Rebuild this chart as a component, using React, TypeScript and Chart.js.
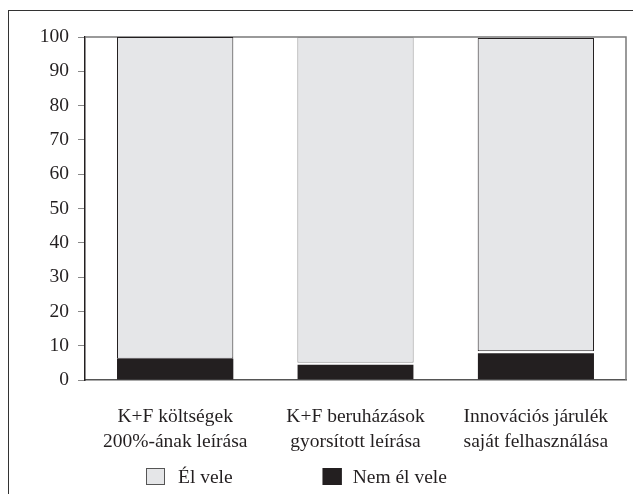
import React, { useEffect, useRef } from "react";
import { Chart, registerables } from "chart.js";

Chart.register(...registerables);

const categories: string[][] = [
  ["K+F költségek", "200%-ának leírása"],
  ["K+F beruházások", "gyorsított leírása"],
  ["Innovációs járulék", "saját felhasználása"],
];
const nemElVele: number[] = [6.2, 5.0, 8.4];
const elVele: number[] = [93.8, 95.0, 91.3];
const yTicks: number[] = [0, 10, 20, 30, 40, 50, 60, 70, 80, 90, 100];
const seriesLabels = { el: "Él vele", nem: "Nem él vele" };

const FONT = "'Liberation Serif', 'Times New Roman', serif";
const TEXT = "#231f20";
const FS = 19.5;

const frameAndLegend = {
  id: "frameAndLegend",
  beforeDatasetsDraw(chart: any) {
    const { ctx, chartArea } = chart;
    ctx.save();
    ctx.strokeStyle = "#7a7a7a";
    ctx.lineWidth = 1.5;
    ctx.beginPath();
    ctx.moveTo(chartArea.left, chartArea.top);
    ctx.lineTo(chartArea.right, chartArea.top);
    ctx.lineTo(chartArea.right, chartArea.bottom);
    ctx.stroke();
    ctx.restore();
  },
  afterDraw(chart: any) {
    const { ctx, chartArea } = chart;
    const ds = chart.data.datasets;
    const items = [ds[1], ds[0]];
    const y = chartArea.bottom + 88;
    let x = chartArea.left + 61;
    ctx.save();
    ctx.font = `${FS}px ${FONT}`;
    ctx.textBaseline = "alphabetic";
    items.forEach((d: any, i: number) => {
      const fill = Array.isArray(d.backgroundColor) ? d.backgroundColor[0] : d.backgroundColor;
      ctx.fillStyle = fill;
      ctx.fillRect(x, y, 19, 17);
      ctx.strokeStyle = i === 0 ? "#555" : TEXT;
      ctx.lineWidth = 1;
      ctx.strokeRect(x + 0.5, y + 0.5, 18, 16);
      ctx.fillStyle = TEXT;
      ctx.fillText(d.label, x + (i === 0 ? 32 : 30), y + 15);
      const w = ctx.measureText(d.label).width;
      x += 32 + w + 90;
    });
    ctx.restore();
  },
};

export default function App() {
  const ref = useRef<HTMLCanvasElement | null>(null);
  useEffect(() => {
    document.body.style.overflow = "hidden";
    if (!ref.current) return;
    const chart = new Chart(ref.current, {
      type: "bar",
      data: {
        labels: categories,
        datasets: [
          {
            label: seriesLabels.nem,
            data: nemElVele,
            backgroundColor: "#231f20",
            borderColor: "#ffffff",
            borderWidth: [
              { top: 0, left: 0, right: 0, bottom: 0 },
              { top: 2, left: 0, right: 0, bottom: 0 },
              { top: 2, left: 0, right: 0, bottom: 0 },
            ] as any,
            borderSkipped: false,
            barPercentage: 0.645,
            categoryPercentage: 1,
          },
          {
            label: seriesLabels.el,
            data: elVele,
            backgroundColor: "#e5e6e8",
            borderColor: ["#231f20", "#8a8a8a", "#231f20"],
            borderWidth: 1,
            borderSkipped: false,
            barPercentage: 0.645,
            categoryPercentage: 1,
          },
        ],
      },
      options: {
        animation: false,
        responsive: true,
        maintainAspectRatio: false,
        layout: { padding: { left: 0, right: 15, top: 26, bottom: 30 } },
        plugins: {
          legend: { display: false },
          tooltip: { enabled: false },
        },
        scales: {
          x: {
            stacked: true,
            offset: true,
            grid: { display: false, drawTicks: false },
            border: { display: true, color: "#555", width: 1.5 },
            ticks: {
              color: TEXT,
              font: { family: FONT, size: FS, lineHeight: 1.25 },
              padding: 25,
            },
            afterFit(scale: any) {
              scale.height = 86;
            },
          },
          y: {
            stacked: true,
            min: 0,
            max: 100,
            afterBuildTicks(scale: any) {
              scale.ticks = yTicks.map((v) => ({ value: v }));
            },
            grid: {
              display: true,
              drawOnChartArea: false,
              drawTicks: true,
              tickLength: 7,
              color: "#888",
            },
            border: { display: true, color: "#231f20", width: 1.5 },
            ticks: {
              color: TEXT,
              font: { family: FONT, size: FS },
              padding: 9,
            },
            afterFit(scale: any) {
              scale.width = 76;
            },
          },
        },
      },
      plugins: [frameAndLegend],
    });
    return () => chart.destroy();
  }, []);

  return (
    <div
      style={{
        position: "relative",
        top: 2,
        width: 633,
        height: 485,
        borderLeft: "1px solid #333",
        borderTop: "1px solid #333",
        boxSizing: "content-box",
      }}
    >
      <div style={{ position: "absolute", left: 0, top: 0, width: 632, height: 485 }}>
        <canvas ref={ref} />
      </div>
    </div>
  );
}
